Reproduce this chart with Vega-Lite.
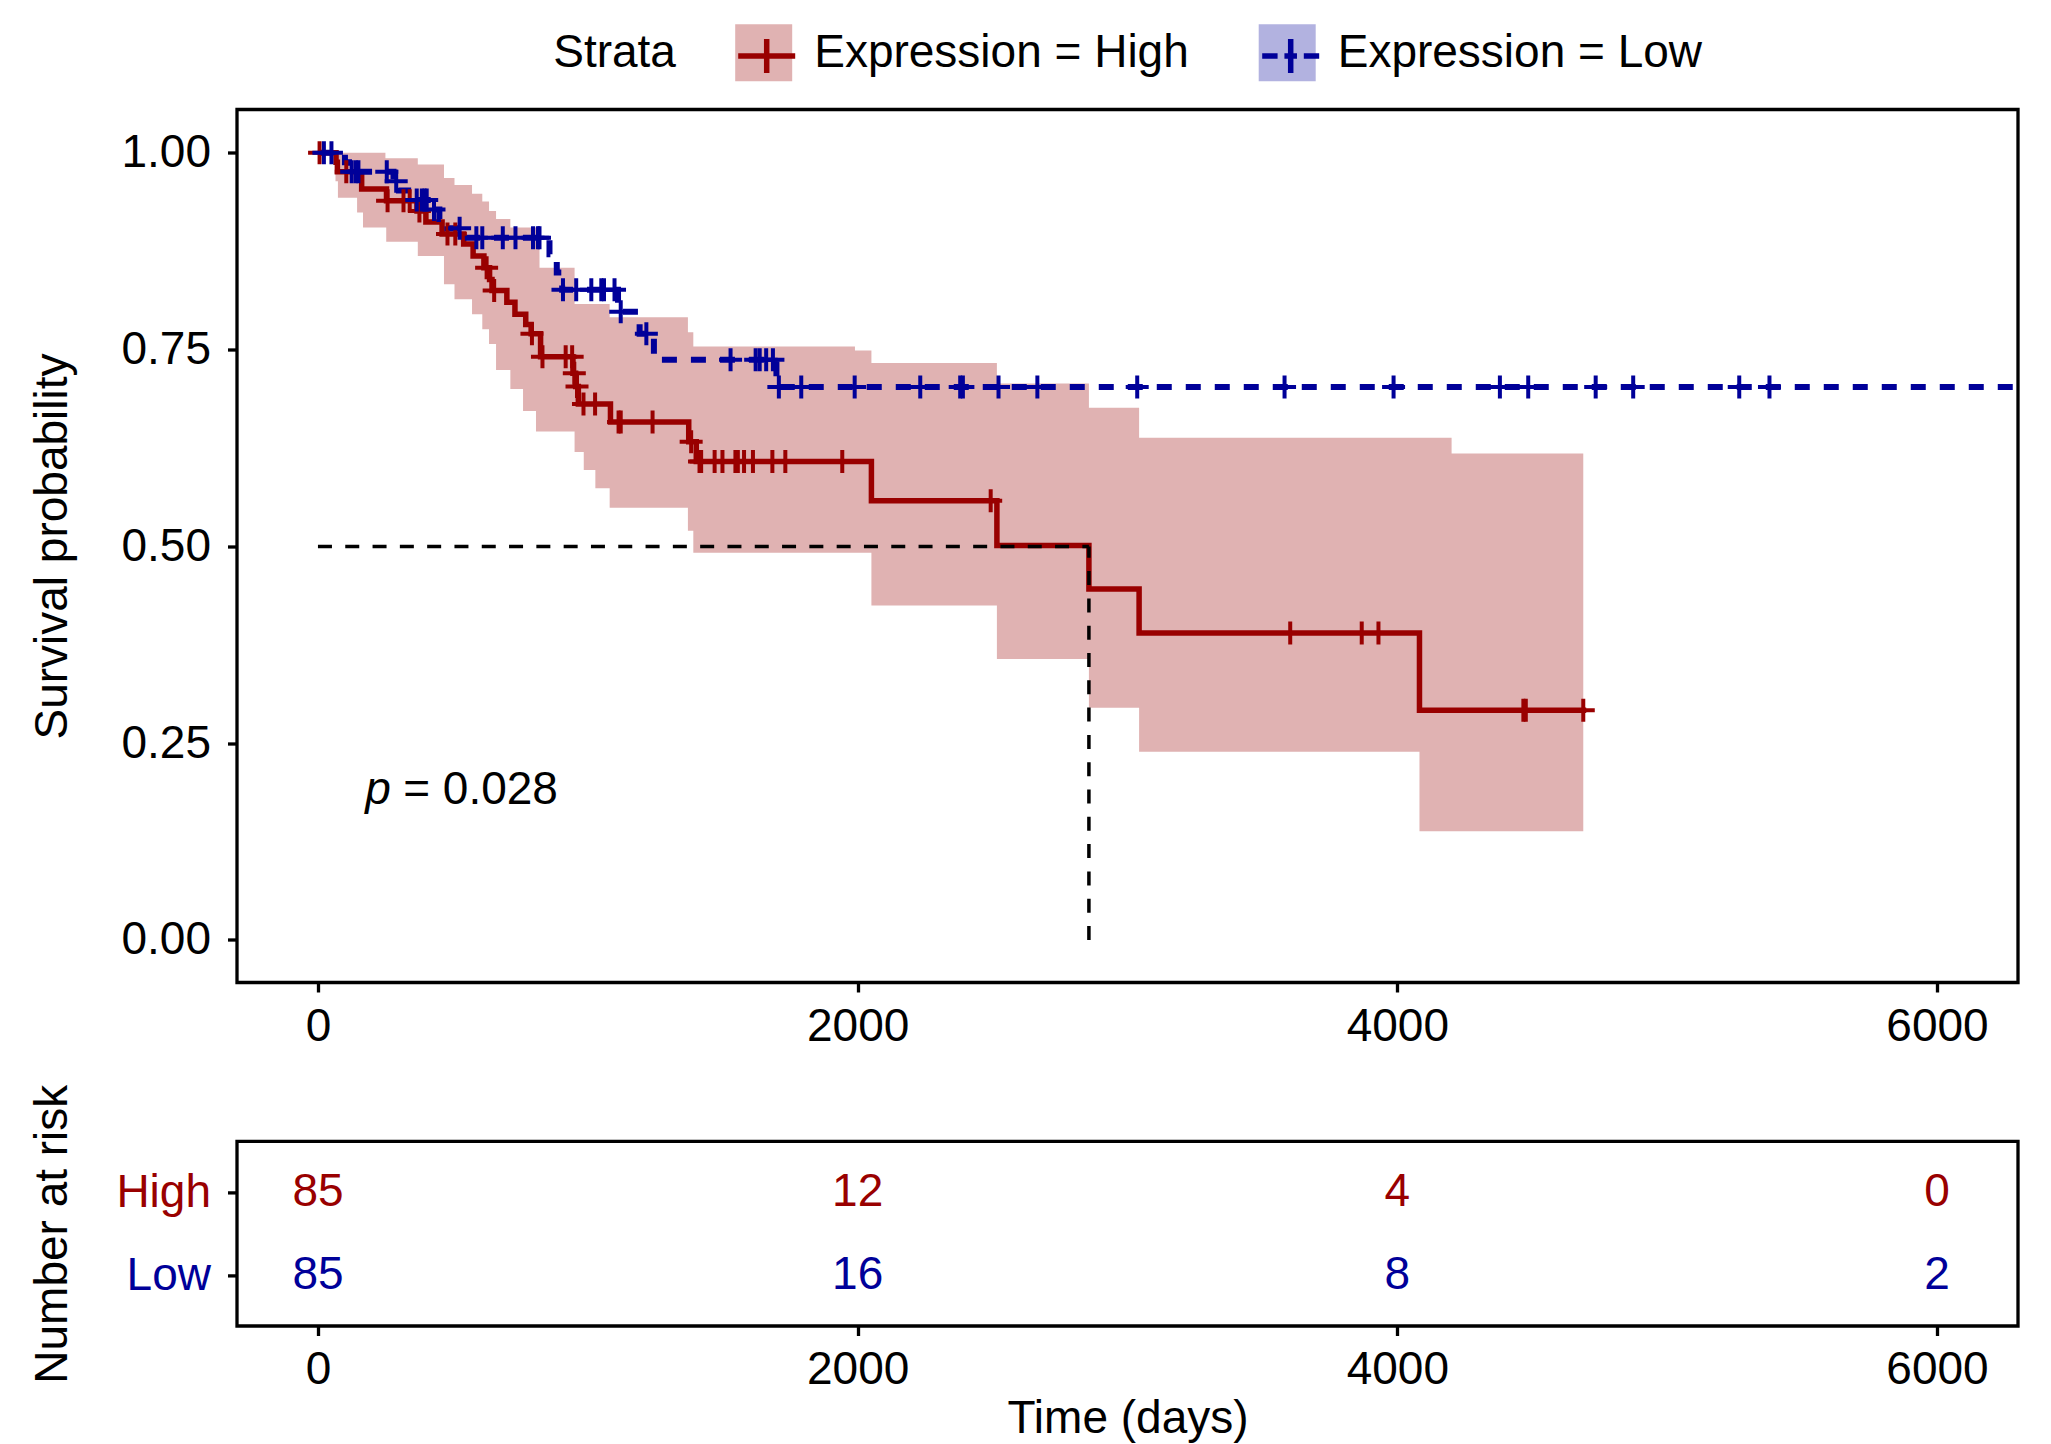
{
  "$schema": "https://vega.github.io/schema/vega-lite/v6.json",
  "background": "white",
  "padding": {"left": 27, "top": 23.5, "right": 0, "bottom": 0},
  "spacing": 158.9,
  "bounds": "flush",
  "config": {
    "font": "Liberation Sans",
    "view": {"stroke": "#000000", "strokeWidth": 3.3},
    "axis": {"domain": false, "grid": false, "ticks": true, "tickColor": "#000000", "tickWidth": 3.3, "tickSize": 9.5, "labelFont": "Liberation Sans", "labelFontSize": 46, "labelColor": "#000000", "titleFont": "Liberation Sans", "titleFontSize": 46, "titleFontWeight": "normal", "titleColor": "#000000"},
    "axisX": {"labelPadding": 12, "labelFlush": false, "labelOverlap": false},
    "axisY": {"labelPadding": 17},
    "legend": {"labelFontSize": 46, "titleFontSize": 46, "titleFontWeight": "normal", "labelColor": "#000000", "titleColor": "#000000", "labelFont": "Liberation Sans", "titleFont": "Liberation Sans", "labelLimit": 1000}
  },
  "datasets": {
    "band": [
      {"strata": "Expression = High", "t": 65, "lower": 0.964, "upper": 1.0},
      {"strata": "Expression = High", "t": 74, "lower": 0.943, "upper": 1.0},
      {"strata": "Expression = High", "t": 145, "lower": 0.924, "upper": 1.0},
      {"strata": "Expression = High", "t": 167, "lower": 0.905, "upper": 1.0},
      {"strata": "Expression = High", "t": 250, "lower": 0.905, "upper": 0.993},
      {"strata": "Expression = High", "t": 253, "lower": 0.887, "upper": 0.993},
      {"strata": "Expression = High", "t": 370, "lower": 0.869, "upper": 0.985},
      {"strata": "Expression = High", "t": 467, "lower": 0.833, "upper": 0.968},
      {"strata": "Expression = High", "t": 506, "lower": 0.814, "upper": 0.959},
      {"strata": "Expression = High", "t": 571, "lower": 0.795, "upper": 0.948},
      {"strata": "Expression = High", "t": 609, "lower": 0.776, "upper": 0.938},
      {"strata": "Expression = High", "t": 634, "lower": 0.757, "upper": 0.926},
      {"strata": "Expression = High", "t": 660, "lower": 0.724, "upper": 0.916},
      {"strata": "Expression = High", "t": 713, "lower": 0.700, "upper": 0.905},
      {"strata": "Expression = High", "t": 760, "lower": 0.672, "upper": 0.905},
      {"strata": "Expression = High", "t": 808, "lower": 0.646, "upper": 0.905},
      {"strata": "Expression = High", "t": 821, "lower": 0.646, "upper": 0.854},
      {"strata": "Expression = High", "t": 951, "lower": 0.620, "upper": 0.808},
      {"strata": "Expression = High", "t": 985, "lower": 0.597, "upper": 0.808},
      {"strata": "Expression = High", "t": 1028, "lower": 0.574, "upper": 0.808},
      {"strata": "Expression = High", "t": 1081, "lower": 0.549, "upper": 0.791},
      {"strata": "Expression = High", "t": 1371, "lower": 0.520, "upper": 0.772},
      {"strata": "Expression = High", "t": 1391, "lower": 0.492, "upper": 0.754},
      {"strata": "Expression = High", "t": 1990, "lower": 0.492, "upper": 0.749},
      {"strata": "Expression = High", "t": 2051, "lower": 0.425, "upper": 0.733},
      {"strata": "Expression = High", "t": 2516, "lower": 0.357, "upper": 0.707},
      {"strata": "Expression = High", "t": 2857, "lower": 0.295, "upper": 0.676},
      {"strata": "Expression = High", "t": 3043, "lower": 0.239, "upper": 0.638},
      {"strata": "Expression = High", "t": 4082, "lower": 0.138, "upper": 0.638},
      {"strata": "Expression = High", "t": 4201, "lower": 0.138, "upper": 0.618},
      {"strata": "Expression = High", "t": 4689, "lower": 0.138, "upper": 0.618}
    ],
    "curve": [
      {"strata": "Expression = High", "t": 0, "surv": 1.0},
      {"strata": "Expression = High", "t": 67, "surv": 0.988},
      {"strata": "Expression = High", "t": 72, "surv": 0.976},
      {"strata": "Expression = High", "t": 162, "surv": 0.954},
      {"strata": "Expression = High", "t": 254, "surv": 0.939},
      {"strata": "Expression = High", "t": 367, "surv": 0.926},
      {"strata": "Expression = High", "t": 400, "surv": 0.912},
      {"strata": "Expression = High", "t": 460, "surv": 0.897},
      {"strata": "Expression = High", "t": 540, "surv": 0.884},
      {"strata": "Expression = High", "t": 575, "surv": 0.869},
      {"strata": "Expression = High", "t": 615, "surv": 0.854},
      {"strata": "Expression = High", "t": 636, "surv": 0.839},
      {"strata": "Expression = High", "t": 645, "surv": 0.825},
      {"strata": "Expression = High", "t": 700, "surv": 0.810},
      {"strata": "Expression = High", "t": 730, "surv": 0.795},
      {"strata": "Expression = High", "t": 770, "surv": 0.782},
      {"strata": "Expression = High", "t": 790, "surv": 0.770},
      {"strata": "Expression = High", "t": 825, "surv": 0.741},
      {"strata": "Expression = High", "t": 945, "surv": 0.720},
      {"strata": "Expression = High", "t": 955, "surv": 0.703},
      {"strata": "Expression = High", "t": 965, "surv": 0.681},
      {"strata": "Expression = High", "t": 1084, "surv": 0.658},
      {"strata": "Expression = High", "t": 1374, "surv": 0.633},
      {"strata": "Expression = High", "t": 1402, "surv": 0.608},
      {"strata": "Expression = High", "t": 2051, "surv": 0.558},
      {"strata": "Expression = High", "t": 2516, "surv": 0.501},
      {"strata": "Expression = High", "t": 2857, "surv": 0.446},
      {"strata": "Expression = High", "t": 3043, "surv": 0.390},
      {"strata": "Expression = High", "t": 4082, "surv": 0.292},
      {"strata": "Expression = High", "t": 4700, "surv": 0.292},
      {"strata": "Expression = Low", "t": 0, "surv": 1.0},
      {"strata": "Expression = Low", "t": 100, "surv": 0.988},
      {"strata": "Expression = Low", "t": 115, "surv": 0.976},
      {"strata": "Expression = Low", "t": 280, "surv": 0.964},
      {"strata": "Expression = Low", "t": 300, "surv": 0.952},
      {"strata": "Expression = Low", "t": 360, "surv": 0.940},
      {"strata": "Expression = Low", "t": 420, "surv": 0.928},
      {"strata": "Expression = Low", "t": 450, "surv": 0.916},
      {"strata": "Expression = Low", "t": 480, "surv": 0.904},
      {"strata": "Expression = Low", "t": 530, "surv": 0.892},
      {"strata": "Expression = Low", "t": 858, "surv": 0.871},
      {"strata": "Expression = Low", "t": 885, "surv": 0.848},
      {"strata": "Expression = Low", "t": 905, "surv": 0.826},
      {"strata": "Expression = Low", "t": 1112, "surv": 0.798},
      {"strata": "Expression = Low", "t": 1192, "surv": 0.770},
      {"strata": "Expression = Low", "t": 1245, "surv": 0.737},
      {"strata": "Expression = Low", "t": 1699, "surv": 0.7025},
      {"strata": "Expression = Low", "t": 6300, "surv": 0.7025}
    ],
    "censor": [
      {"strata": "Expression = High", "t": 6, "surv": 1.0},
      {"strata": "Expression = High", "t": 105, "surv": 0.976},
      {"strata": "Expression = High", "t": 258, "surv": 0.939},
      {"strata": "Expression = High", "t": 317, "surv": 0.939},
      {"strata": "Expression = High", "t": 340, "surv": 0.939},
      {"strata": "Expression = High", "t": 376, "surv": 0.926},
      {"strata": "Expression = High", "t": 480, "surv": 0.897},
      {"strata": "Expression = High", "t": 509, "surv": 0.897},
      {"strata": "Expression = High", "t": 625, "surv": 0.854},
      {"strata": "Expression = High", "t": 653, "surv": 0.825},
      {"strata": "Expression = High", "t": 793, "surv": 0.770},
      {"strata": "Expression = High", "t": 832, "surv": 0.741},
      {"strata": "Expression = High", "t": 918, "surv": 0.741},
      {"strata": "Expression = High", "t": 942, "surv": 0.741},
      {"strata": "Expression = High", "t": 950, "surv": 0.720},
      {"strata": "Expression = High", "t": 960, "surv": 0.703},
      {"strata": "Expression = High", "t": 984, "surv": 0.681},
      {"strata": "Expression = High", "t": 1027, "surv": 0.681},
      {"strata": "Expression = High", "t": 1114, "surv": 0.658},
      {"strata": "Expression = High", "t": 1122, "surv": 0.658},
      {"strata": "Expression = High", "t": 1240, "surv": 0.658},
      {"strata": "Expression = High", "t": 1383, "surv": 0.633},
      {"strata": "Expression = High", "t": 1414, "surv": 0.608},
      {"strata": "Expression = High", "t": 1420, "surv": 0.608},
      {"strata": "Expression = High", "t": 1470, "surv": 0.608},
      {"strata": "Expression = High", "t": 1499, "surv": 0.608},
      {"strata": "Expression = High", "t": 1547, "surv": 0.608},
      {"strata": "Expression = High", "t": 1556, "surv": 0.608},
      {"strata": "Expression = High", "t": 1579, "surv": 0.608},
      {"strata": "Expression = High", "t": 1612, "surv": 0.608},
      {"strata": "Expression = High", "t": 1684, "surv": 0.608},
      {"strata": "Expression = High", "t": 1732, "surv": 0.608},
      {"strata": "Expression = High", "t": 1943, "surv": 0.608},
      {"strata": "Expression = High", "t": 2493, "surv": 0.558},
      {"strata": "Expression = High", "t": 3603, "surv": 0.390},
      {"strata": "Expression = High", "t": 3868, "surv": 0.390},
      {"strata": "Expression = High", "t": 3930, "surv": 0.390},
      {"strata": "Expression = High", "t": 4467, "surv": 0.292},
      {"strata": "Expression = High", "t": 4476, "surv": 0.292},
      {"strata": "Expression = High", "t": 4689, "surv": 0.292},
      {"strata": "Expression = Low", "t": 22, "surv": 1.0},
      {"strata": "Expression = Low", "t": 50, "surv": 1.0},
      {"strata": "Expression = Low", "t": 125, "surv": 0.976},
      {"strata": "Expression = Low", "t": 140, "surv": 0.976},
      {"strata": "Expression = Low", "t": 150, "surv": 0.976},
      {"strata": "Expression = Low", "t": 255, "surv": 0.976},
      {"strata": "Expression = Low", "t": 290, "surv": 0.964},
      {"strata": "Expression = Low", "t": 366, "surv": 0.940},
      {"strata": "Expression = Low", "t": 385, "surv": 0.940},
      {"strata": "Expression = Low", "t": 395, "surv": 0.940},
      {"strata": "Expression = Low", "t": 403, "surv": 0.940},
      {"strata": "Expression = Low", "t": 430, "surv": 0.928},
      {"strata": "Expression = Low", "t": 525, "surv": 0.904},
      {"strata": "Expression = Low", "t": 587, "surv": 0.892},
      {"strata": "Expression = Low", "t": 609, "surv": 0.892},
      {"strata": "Expression = Low", "t": 685, "surv": 0.892},
      {"strata": "Expression = Low", "t": 732, "surv": 0.892},
      {"strata": "Expression = Low", "t": 797, "surv": 0.892},
      {"strata": "Expression = Low", "t": 815, "surv": 0.892},
      {"strata": "Expression = Low", "t": 821, "surv": 0.892},
      {"strata": "Expression = Low", "t": 908, "surv": 0.826},
      {"strata": "Expression = Low", "t": 957, "surv": 0.826},
      {"strata": "Expression = Low", "t": 1013, "surv": 0.826},
      {"strata": "Expression = Low", "t": 1050, "surv": 0.826},
      {"strata": "Expression = Low", "t": 1060, "surv": 0.826},
      {"strata": "Expression = Low", "t": 1099, "surv": 0.826},
      {"strata": "Expression = Low", "t": 1122, "surv": 0.798},
      {"strata": "Expression = Low", "t": 1217, "surv": 0.770},
      {"strata": "Expression = Low", "t": 1529, "surv": 0.737},
      {"strata": "Expression = Low", "t": 1622, "surv": 0.737},
      {"strata": "Expression = Low", "t": 1637, "surv": 0.737},
      {"strata": "Expression = Low", "t": 1661, "surv": 0.737},
      {"strata": "Expression = Low", "t": 1686, "surv": 0.737},
      {"strata": "Expression = Low", "t": 1708, "surv": 0.7025},
      {"strata": "Expression = Low", "t": 1791, "surv": 0.7025},
      {"strata": "Expression = Low", "t": 1989, "surv": 0.7025},
      {"strata": "Expression = Low", "t": 2232, "surv": 0.7025},
      {"strata": "Expression = Low", "t": 2380, "surv": 0.7025},
      {"strata": "Expression = Low", "t": 2390, "surv": 0.7025},
      {"strata": "Expression = Low", "t": 2522, "surv": 0.7025},
      {"strata": "Expression = Low", "t": 2666, "surv": 0.7025},
      {"strata": "Expression = Low", "t": 3036, "surv": 0.7025},
      {"strata": "Expression = Low", "t": 3582, "surv": 0.7025},
      {"strata": "Expression = Low", "t": 3986, "surv": 0.7025},
      {"strata": "Expression = Low", "t": 4380, "surv": 0.7025},
      {"strata": "Expression = Low", "t": 4485, "surv": 0.7025},
      {"strata": "Expression = Low", "t": 4735, "surv": 0.7025},
      {"strata": "Expression = Low", "t": 4874, "surv": 0.7025},
      {"strata": "Expression = Low", "t": 5267, "surv": 0.7025},
      {"strata": "Expression = Low", "t": 5379, "surv": 0.7025}
    ],
    "median": [
      {"x1": 0, "x2": 2857, "y1": 0.5, "y2": 0.5},
      {"x1": 2857, "x2": 2857, "y1": 0.0, "y2": 0.5}
    ],
    "pval": [
      {"t": 175, "surv": 0.191, "p": "p", "rest": "= 0.028"}
    ],
    "risk": [
      {"group": "High", "t": 0, "n": 85},
      {"group": "High", "t": 2000, "n": 12},
      {"group": "High", "t": 4000, "n": 4},
      {"group": "High", "t": 6000, "n": 0},
      {"group": "Low", "t": 0, "n": 85},
      {"group": "Low", "t": 2000, "n": 16},
      {"group": "Low", "t": 4000, "n": 8},
      {"group": "Low", "t": 6000, "n": 2}
    ]
  },
  "vconcat": [
    {
      "width": 1781,
      "height": 873,
      "layer": [
        {
          "data": {"name": "band"},
          "mark": {"type": "area", "interpolate": "step-after", "opacity": 1, "clip": true},
          "encoding": {
            "x": {"field": "t", "type": "quantitative", "scale": {"domain": [-300, 6300], "nice": false, "zero": false},
                  "axis": {"values": [0, 2000, 4000, 6000], "format": "d", "title": null}},
            "y": {"field": "lower", "type": "quantitative", "scale": {"domain": [-0.054, 1.055], "nice": false, "zero": false},
                  "axis": {"values": [0, 0.25, 0.5, 0.75, 1], "format": ".2f", "title": "Survival probability", "titleX": -184.8, "titleBaseline": "middle"}},
            "y2": {"field": "upper"},
            "fill": {"field": "strata", "type": "nominal",
                     "scale": {"domain": ["Expression = High", "Expression = Low"], "range": ["#e0b2b2", "#b2b2e0"]},
                     "legend": {"title": "Strata", "orient": "none", "legendX": 316.2, "legendY": -85.2, "direction": "horizontal",
                                "titleOrient": "left", "titleAnchor": "middle", "titleBaseline": "middle", "titlePadding": 59,
                                "symbolType": "square", "symbolSize": 3249, "symbolStrokeWidth": 0, "symbolOpacity": 1,
                                "labelOffset": 22, "columnPadding": 69.5, "padding": 0}}
          }
        },
        {
          "data": {"name": "curve"},
          "transform": [{"filter": "datum.strata == 'Expression = High'"}],
          "mark": {"type": "line", "interpolate": "step-after", "strokeWidth": 5.5, "color": "#990000", "clip": true},
          "encoding": {
            "x": {"field": "t", "type": "quantitative"},
            "y": {"field": "surv", "type": "quantitative"}
          }
        },
        {
          "data": {"name": "curve"},
          "transform": [{"filter": "datum.strata == 'Expression = Low'"}],
          "mark": {"type": "line", "interpolate": "step-after", "strokeWidth": 6, "strokeDash": [15, 14], "color": "#000099", "clip": true},
          "encoding": {
            "x": {"field": "t", "type": "quantitative"},
            "y": {"field": "surv", "type": "quantitative"}
          }
        },
        {
          "data": {"name": "censor"},
          "transform": [{"filter": "datum.strata == 'Expression = High'"}],
          "mark": {"type": "point", "shape": "M-1,0H1M0,-1V1", "filled": false, "stroke": "#990000", "strokeWidth": 4, "size": 529, "opacity": 1, "clip": true},
          "encoding": {
            "x": {"field": "t", "type": "quantitative"},
            "y": {"field": "surv", "type": "quantitative"}
          }
        },
        {
          "data": {"name": "censor"},
          "transform": [{"filter": "datum.strata == 'Expression = Low'"}],
          "mark": {"type": "point", "shape": "M-1,0H1M0,-1V1", "filled": false, "stroke": "#000099", "strokeWidth": 4, "size": 529, "opacity": 1, "clip": true},
          "encoding": {
            "x": {"field": "t", "type": "quantitative"},
            "y": {"field": "surv", "type": "quantitative"}
          }
        },
        {
          "data": {"name": "curve"},
          "mark": {"type": "point", "filled": false, "opacity": 0, "strokeWidth": 5.5, "clip": true},
          "encoding": {
            "x": {"field": "t", "type": "quantitative"},
            "y": {"field": "surv", "type": "quantitative"},
            "stroke": {"field": "strata", "type": "nominal", "scale": {"range": ["#990000", "#000099"]},
                       "legend": {"title": null, "orient": "none", "legendX": 498.2, "legendY": -85.2, "direction": "horizontal",
                                  "symbolSize": 3249, "symbolStrokeWidth": 5.5, "symbolOpacity": 1,
                                  "labelOffset": 0, "labelExpr": "''", "columnPadding": 445, "padding": 0}},
            "shape": {"field": "strata", "type": "nominal",
                      "scale": {"range": ["M-1,0H1M0,-0.6V0.6", "M-1,0H-0.46M-0.22,0H0.22M0.46,0H1M0,-0.6V0.6"]},
                      "legend": {"title": null, "orient": "none", "legendX": 498.2, "legendY": -85.2, "direction": "horizontal",
                                  "symbolSize": 3249, "symbolStrokeWidth": 5.5, "symbolOpacity": 1,
                                  "labelOffset": 0, "labelExpr": "''", "columnPadding": 445, "padding": 0}}
          }
        },
        {
          "data": {"name": "median"},
          "mark": {"type": "rule", "strokeDash": [14, 13.3], "strokeWidth": 3.5, "color": "#000000"},
          "encoding": {
            "x": {"field": "x1", "type": "quantitative"},
            "x2": {"field": "x2"},
            "y": {"field": "y1", "type": "quantitative"},
            "y2": {"field": "y2"}
          }
        },
        {
          "data": {"name": "pval"},
          "mark": {"type": "text", "align": "left", "baseline": "middle", "fontSize": 46, "fontStyle": "italic", "color": "#000000"},
          "encoding": {
            "x": {"field": "t", "type": "quantitative"},
            "y": {"field": "surv", "type": "quantitative"},
            "text": {"field": "p"}
          }
        },
        {
          "data": {"name": "pval"},
          "mark": {"type": "text", "align": "left", "baseline": "middle", "fontSize": 46, "dx": 38, "color": "#000000"},
          "encoding": {
            "x": {"field": "t", "type": "quantitative"},
            "y": {"field": "surv", "type": "quantitative"},
            "text": {"field": "rest"}
          }
        }
      ]
    },
    {
      "width": 1781,
      "height": 184.6,
      "data": {"name": "risk"},
      "mark": {"type": "text", "fontSize": 46, "baseline": "middle", "align": "center"},
      "encoding": {
        "x": {"field": "t", "type": "quantitative", "scale": {"domain": [-300, 6300], "nice": false, "zero": false},
              "axis": {"values": [0, 2000, 4000, 6000], "format": "d", "title": "Time (days)"}},
        "y": {"field": "group", "type": "nominal", "scale": {"type": "point", "domain": ["High", "Low"], "padding": 0.61},
              "axis": {"title": "Number at risk", "titleX": -184.8, "titleBaseline": "middle",
                       "labelColor": {"condition": {"test": "datum.value == 'High'", "value": "#990000"}, "value": "#000099"}}},
        "text": {"field": "n", "type": "quantitative"},
        "color": {"field": "group", "type": "nominal", "scale": {"domain": ["High", "Low"], "range": ["#990000", "#000099"]}, "legend": null}
      }
    }
  ]
}
